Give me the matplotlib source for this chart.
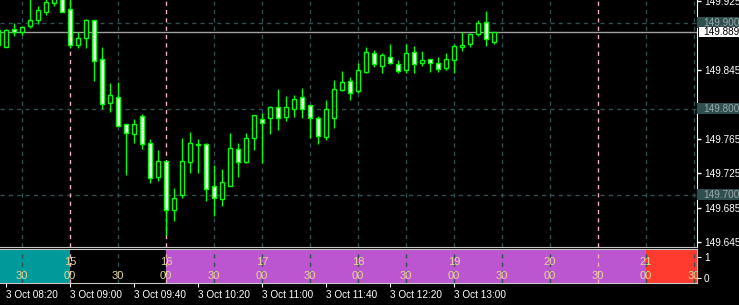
import matplotlib.pyplot as plt
import matplotlib.transforms as mtransforms
from matplotlib.patches import Rectangle
import numpy as np
import pandas as pd

plt.rcParams['font.family'] = ['Liberation Sans', 'DejaVu Sans']

# M5 candles, 3 Oct 08:15 .. 13:25
times = pd.date_range("2023-10-03 08:15", periods=63, freq="5min")
opens = [149.874, 149.872, 149.893, 149.890, 149.897, 149.903, 149.913, 149.923, 149.933, 149.916,
         149.874, 149.882, 149.903, 149.858, 149.807, 149.814, 149.782, 149.771, 149.792, 149.760,
         149.721, 149.739, 149.683, 149.700, 149.738, 149.759, 149.759, 149.710, 149.695, 149.711,
         149.754, 149.738, 149.766, 149.788, 149.790, 149.802, 149.791, 149.800, 149.814, 149.805,
         149.790, 149.767, 149.790, 149.822, 149.833, 149.821, 149.843, 149.865, 149.850, 149.861,
         149.852, 149.845, 149.866, 149.854, 149.858, 149.854, 149.848, 149.857, 149.872, 149.875,
         149.887, 149.901, 149.878]
highs = [149.893, 149.893, 149.900, 149.897, 149.928, 149.920, 149.930, 149.934, 149.936, 149.930,
         149.890, 149.905, 149.904, 149.872, 149.830, 149.831, 149.783, 149.788, 149.794, 149.765,
         149.752, 149.739, 149.708, 149.766, 149.773, 149.765, 149.760, 149.735, 149.730, 149.772,
         149.760, 149.772, 149.793, 149.795, 149.803, 149.823, 149.815, 149.816, 149.824, 149.805,
         149.792, 149.810, 149.834, 149.844, 149.837, 149.853, 149.872, 149.869, 149.865, 149.876,
         149.857, 149.876, 149.873, 149.867, 149.858, 149.860, 149.865, 149.876, 149.889, 149.888,
         149.903, 149.914, 149.890]
lows = [149.873, 149.872, 149.885, 149.886, 149.894, 149.899, 149.909, 149.920, 149.913, 149.871,
        149.871, 149.871, 149.833, 149.800, 149.797, 149.780, 149.723, 149.760, 149.754, 149.714,
        149.716, 149.653, 149.670, 149.697, 149.726, 149.725, 149.693, 149.676, 149.687, 149.711,
        149.721, 149.737, 149.752, 149.737, 149.771, 149.776, 149.786, 149.791, 149.790, 149.766,
        149.759, 149.764, 149.778, 149.821, 149.810, 149.818, 149.842, 149.849, 149.842, 149.852,
        149.842, 149.842, 149.842, 149.850, 149.843, 149.843, 149.845, 149.842, 149.867, 149.872,
        149.885, 149.873, 149.876]
closes = [149.892, 149.892, 149.889, 149.895, 149.904, 149.915, 149.924, 149.930, 149.913, 149.874,
          149.883, 149.904, 149.856, 149.806, 149.816, 149.780, 149.772, 149.782, 149.759, 149.720,
          149.740, 149.682, 149.697, 149.740, 149.760, 149.758, 149.707, 149.696, 149.715, 149.755,
          149.738, 149.766, 149.793, 149.784, 149.802, 149.789, 149.802, 149.812, 149.800, 149.789,
          149.768, 149.800, 149.823, 149.831, 149.818, 149.845, 149.866, 149.852, 149.863, 149.853,
          149.844, 149.865, 149.852, 149.857, 149.853, 149.846, 149.858, 149.873, 149.874, 149.887,
          149.900, 149.881, 149.889]
bid = 149.889

# price scale labels as shown by the terminal
price_ticks = [149.925, 149.845, 149.765, 149.725, 149.685, 149.645]
grid_levels = [149.900, 149.800, 149.700]

# session indicator (local hour -> colour), hour labels
session_hours = [14, 15, 16, 17, 18, 19, 20, 21]
session_colors = ['#009a9a', None, '#bb55d0', '#bb55d0', '#bb55d0', '#bb55d0', '#bb55d0', '#ff3a2e']

green = '#00ff00'
grid_c = '#2f5050'
pink = '#f0b0b8'
txt_c = '#e8d898'

fig = plt.figure(figsize=(7.39, 3.05), dpi=100, facecolor='black')
W, H = 739, 305
ax = fig.add_axes([0, 58 / H, 697 / W, 247 / H], facecolor='black')
sub = fig.add_axes([0, 22 / H, 697 / W, 34 / H], facecolor='black')

x = np.arange(len(opens))
xlim = (0.25, 87.375)

# grid
vgrid = np.arange(3, 90, 6)
pink_lines = [9, 21, 75]
for a in (ax, sub):
    for g in vgrid:
        if g in pink_lines:
            continue
        a.axvline(g, color=grid_c, lw=1, ls=(0, (3, 3)), zorder=2)
    for g in pink_lines:
        a.axvline(g, color=pink, lw=1, ls=(0, (3, 3)), zorder=2)
for lv in grid_levels:
    ax.axhline(lv, color=grid_c, lw=1, ls=(0, (3, 3)), zorder=1)

ax.axhline(bid, color='#a0a0a0', lw=1, zorder=2)

# candles
o = np.array(opens); c = np.array(closes)
ax.vlines(x, lows, highs, color=green, lw=1, zorder=3)
body_lo = np.minimum(o, c)
body_h = np.maximum(np.abs(c - o), 0.0004)
face = ['white' if cc < oo else 'black' for oo, cc in zip(o, c)]
ax.bar(x, body_h, bottom=body_lo, width=0.48, color=face, edgecolor=green, linewidth=1, zorder=4)

ax.set_xlim(*xlim)
ax.set_ylim(149.6395, 149.9267)
ax.set_xticks([])
ax.yaxis.tick_right()
ax.set_yticks(price_ticks)
ax.set_yticklabels([f"{p:.3f}" for p in price_ticks])
ax.tick_params(axis='y', direction='out', length=3, color='white', labelcolor='white',
               labelsize=7.2, pad=2, width=1)
for s in ['left', 'top']:
    ax.spines[s].set_visible(False)
ax.spines['right'].set_color('white')
ax.spines['bottom'].set_color('#c8c8c8')

# boxed labels on price scale
bt = mtransforms.blended_transform_factory(ax.transAxes, ax.transData)
bw = 42 / 697
bh = 11 / 860
for lv in grid_levels:
    ax.add_patch(Rectangle((1.0, lv - bh / 2), bw, bh, transform=bt, clip_on=False,
                           facecolor='#2f4f4f', edgecolor='none', zorder=5))
    ax.text(1.0 + 6 / 697, lv, f"{lv:.3f}", transform=bt, clip_on=False, fontsize=7.2,
            color='#9aa8a8', va='center', ha='left', zorder=6)
ax.add_patch(Rectangle((1.0 + 2 / 697, bid - 10 / 860 / 2), 40 / 697, 10 / 860, transform=bt,
                       clip_on=False, facecolor='white', edgecolor='none', zorder=5))
ax.text(1.0 + 6 / 697, bid, f"{bid:.3f}", transform=bt, clip_on=False, fontsize=7.2,
        color='black', va='center', ha='left', zorder=6)

# session sub window
for hr, col in zip(session_hours, session_colors):
    start = 9 + (hr - 15) * 12
    if col:
        sub.axvspan(start, start + 12, color=col, lw=0, zorder=1)
    if 9 <= start <= 87:
        sub.text(start, 0.78, str(hr), color=txt_c, fontsize=8, ha='center', va='center',
                 zorder=5, clip_on=True)
for g in vgrid:
    mm = (times[0] + pd.Timedelta(minutes=5 * int(g))).minute
    sub.text(g, 0.11, f"{mm:02d}", color=txt_c, fontsize=8, ha='center', va='center',
             zorder=5, clip_on=True)

sub.set_xlim(*xlim)
sub.set_ylim(-0.238, 1.381)
sub.yaxis.tick_right()
sub.set_yticks([0, 1])
sub.set_yticklabels(['0', '1'])
sub.tick_params(axis='y', direction='out', length=3, color='white', labelcolor='white',
                labelsize=7.2, pad=2)
tick_idx = np.arange(1, 58, 8)
sub.set_xticks(tick_idx)
sub.set_xticklabels([f"{times[i].day} {times[i]:%b %H:%M}" for i in tick_idx], ha='left')
sub.tick_params(axis='x', direction='out', length=3, color='white', labelcolor='white',
                labelsize=7.2, pad=2)
sub.spines['left'].set_visible(False)
for s in ['top', 'bottom', 'right']:
    sub.spines[s].set_color('#c8c8c8')

fig.savefig('out.png', dpi=100, facecolor='black')
